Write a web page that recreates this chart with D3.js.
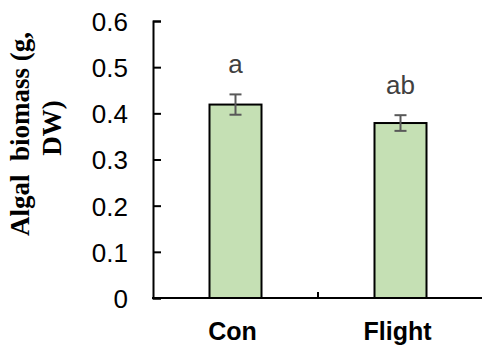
<!DOCTYPE html>
<html><head><meta charset="utf-8">
<script src="https://cdn.jsdelivr.net/npm/d3@7"></script>
<style>body{margin:0;background:#fff}svg{display:block}</style>
</head><body>
<script>
const categories = ["Con", "Flight"];
const values = [0.419, 0.379];
const errors = [0.022, 0.017];
const letters = ["a", "ab"];
const yTicks = [0, 0.1, 0.2, 0.3, 0.4, 0.5, 0.6];

const W = 482, H = 347;
const svg = d3.select("body").append("svg").attr("width", W).attr("height", H);
const x0 = 153, x1 = 483, yTop = 21, yBot = 298;
const x = d3.scaleBand().domain(categories).range([x0, x1]).paddingInner(0).paddingOuter(0);
const y = d3.scaleLinear().domain([0, 0.6]).range([yBot, yTop]);
const barW = 52;

// bars
svg.selectAll("rect.bar").data(categories).join("rect")
  .attr("class", "bar")
  .attr("x", d => x(d) + x.bandwidth() / 2 - barW / 2)
  .attr("y", (d, i) => y(values[i]))
  .attr("width", barW)
  .attr("height", (d, i) => y(0) - y(values[i]))
  .attr("fill", "#c5e0b4").attr("stroke", "#000").attr("stroke-width", 2);

// error bars
const eb = svg.selectAll("g.eb").data(categories).join("g").attr("class", "eb")
  .attr("stroke", "#595959").attr("stroke-width", 2);
eb.append("line")
  .attr("x1", d => x(d) + x.bandwidth() / 2).attr("x2", d => x(d) + x.bandwidth() / 2)
  .attr("y1", (d, i) => y(values[i] + errors[i])).attr("y2", (d, i) => y(values[i] - errors[i]));
[1, -1].forEach(s => {
  eb.append("line")
    .attr("x1", d => x(d) + x.bandwidth() / 2 - 6).attr("x2", d => x(d) + x.bandwidth() / 2 + 6)
    .attr("y1", (d, i) => y(values[i] + s * errors[i])).attr("y2", (d, i) => y(values[i] + s * errors[i]));
});

// significance letters
svg.selectAll("text.sig").data(categories).join("text").attr("class", "sig")
  .attr("x", d => x(d) + x.bandwidth() / 2)
  .attr("y", (d, i) => y(values[i] + errors[i]) - 21)
  .attr("text-anchor", "middle")
  .attr("font-family", "Arial, 'Liberation Sans', sans-serif")
  .attr("font-size", 26).attr("fill", "#404040")
  .text((d, i) => letters[i]);

// y axis
const yAxis = svg.append("g").attr("transform", `translate(${x0},0)`)
  .call(d3.axisLeft(y).tickValues(yTicks).tickFormat(d => d === 0 ? "0" : d3.format(".1f")(d))
    .tickSize(-8).tickSizeOuter(-8).tickPadding(25));
yAxis.selectAll("path,line").attr("stroke", "#000").attr("stroke-width", 2);
yAxis.selectAll("text").attr("font-family", "Arial, 'Liberation Sans', sans-serif")
  .attr("font-size", 26).attr("fill", "#000").attr("dy", "0.36em");

// x axis
const xg = svg.append("g");
xg.append("line").attr("x1", x0 - 1).attr("x2", x1).attr("y1", yBot).attr("y2", yBot)
  .attr("stroke", "#000").attr("stroke-width", 2);
xg.selectAll("line.tk").data(categories.slice(1)).join("line").attr("class", "tk")
  .attr("x1", d => x(d)).attr("x2", d => x(d)).attr("y1", yBot).attr("y2", yBot - 6)
  .attr("stroke", "#000").attr("stroke-width", 2);
xg.selectAll("text").data(categories).join("text")
  .attr("x", d => x(d) + x.bandwidth() / 2 - 3).attr("y", 340)
  .attr("text-anchor", "middle")
  .attr("font-family", "Arial, 'Liberation Sans', sans-serif")
  .attr("font-size", 25).attr("font-weight", "bold").attr("fill", "#000")
  .text(d => d);

// y label
const yl = svg.append("text").attr("transform", "rotate(-90)")
  .attr("text-anchor", "middle")
  .attr("font-family", "'Times New Roman', 'Liberation Serif', serif")
  .attr("font-size", 27).attr("font-weight", "bold").attr("fill", "#000");
yl.append("tspan").attr("x", -134).attr("y", 29).text("Algal\u00a0 biomass (g,");
yl.append("tspan").attr("x", -128).attr("y", 61).text("DW)");
</script>
</body></html>
